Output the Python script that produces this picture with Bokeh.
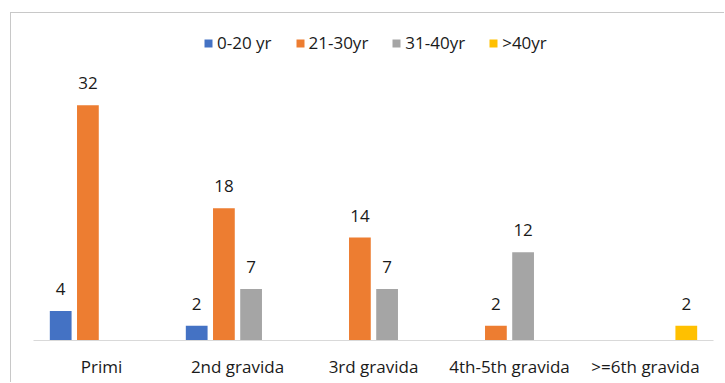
from bokeh.plotting import figure
from bokeh.models import ColumnDataSource, FactorRange, Range1d, Legend
from bokeh.transform import dodge
from bokeh.core.properties import value
from bokeh.embed import file_html
from bokeh.resources import INLINE

categories = ["Primi", "2nd gravida", "3rd gravida", "4th-5th gravida", ">=6th gravida"]
series_names = ["0-20 yr", "21-30yr", "31-40yr", ">40yr"]
age_0_20 = [4, 2, 0, 0, 0]
age_21_30 = [32, 18, 14, 2, 0]
age_31_40 = [0, 7, 7, 12, 0]
age_over_40 = [0, 0, 0, 0, 2]
colors = ["#4472c4", "#ed7d31", "#a5a5a5", "#ffc000"]
offsets = [-0.3, -0.1, 0.1, 0.3]

FONT = "Open Sans"
FS = "17px"
TXT = "#1a1a1a"

# canvas is shifted by 11px left / 13px top through the CSS border + margin
p = figure(width=714, height=370, x_range=FactorRange(*categories, range_padding=0),
           y_range=Range1d(0, 44.5), output_backend="svg", toolbar_location=None,
           min_border_left=22, min_border_right=12, min_border_top=0, min_border_bottom=43)
p.styles = {"margin-left": "10px", "margin-top": "12px",
            "border-left": "1px solid #c8c8c8", "border-top": "1px solid #c8c8c8"}
p.outline_line_color = None
p.xgrid.visible = False
p.ygrid.visible = False
p.yaxis.visible = False

all_series = [age_0_20, age_21_30, age_31_40, age_over_40]
items = []
for name, vals, col, off in zip(series_names, all_series, colors, offsets):
    src = ColumnDataSource(dict(cat=categories, v=vals))
    r = p.vbar(x=dodge("cat", off, range=p.x_range), top="v", width=0.16, source=src,
               fill_color=col, line_color=None)
    items.append((name, [r]))
    nz = [(c, v) for c, v in zip(categories, vals) if v != 0]
    lsrc = ColumnDataSource(dict(cat=[c for c, _ in nz], v=[v for _, v in nz],
                                 t=[str(v) for _, v in nz]))
    p.text(x=dodge("cat", off, range=p.x_range), y="v", text="t", source=lsrc,
           text_align="center", text_baseline="alphabetic", y_offset=-22,
           text_font=value(FONT), text_font_size=FS, text_color=TXT)

legend = Legend(items=items, orientation="horizontal", location=(170, 286))
legend.background_fill_alpha = 0
legend.border_line_color = None
legend.label_text_font = FONT
legend.label_text_font_size = FS
legend.label_text_color = TXT
legend.glyph_width = 10
legend.glyph_height = 10
legend.spacing = 23
legend.label_standoff = 4
legend.margin = 0
legend.padding = 0
p.add_layout(legend)

ax = p.xaxis[0]
ax.axis_line_color = "#d9d9d9"
ax.axis_line_width = 1
ax.major_tick_line_color = None
ax.minor_tick_line_color = None
ax.major_label_text_font = FONT
ax.major_label_text_font_size = FS
ax.major_label_text_color = TXT
ax.major_label_standoff = 8

open("out.html", "w").write(file_html(p, INLINE))
